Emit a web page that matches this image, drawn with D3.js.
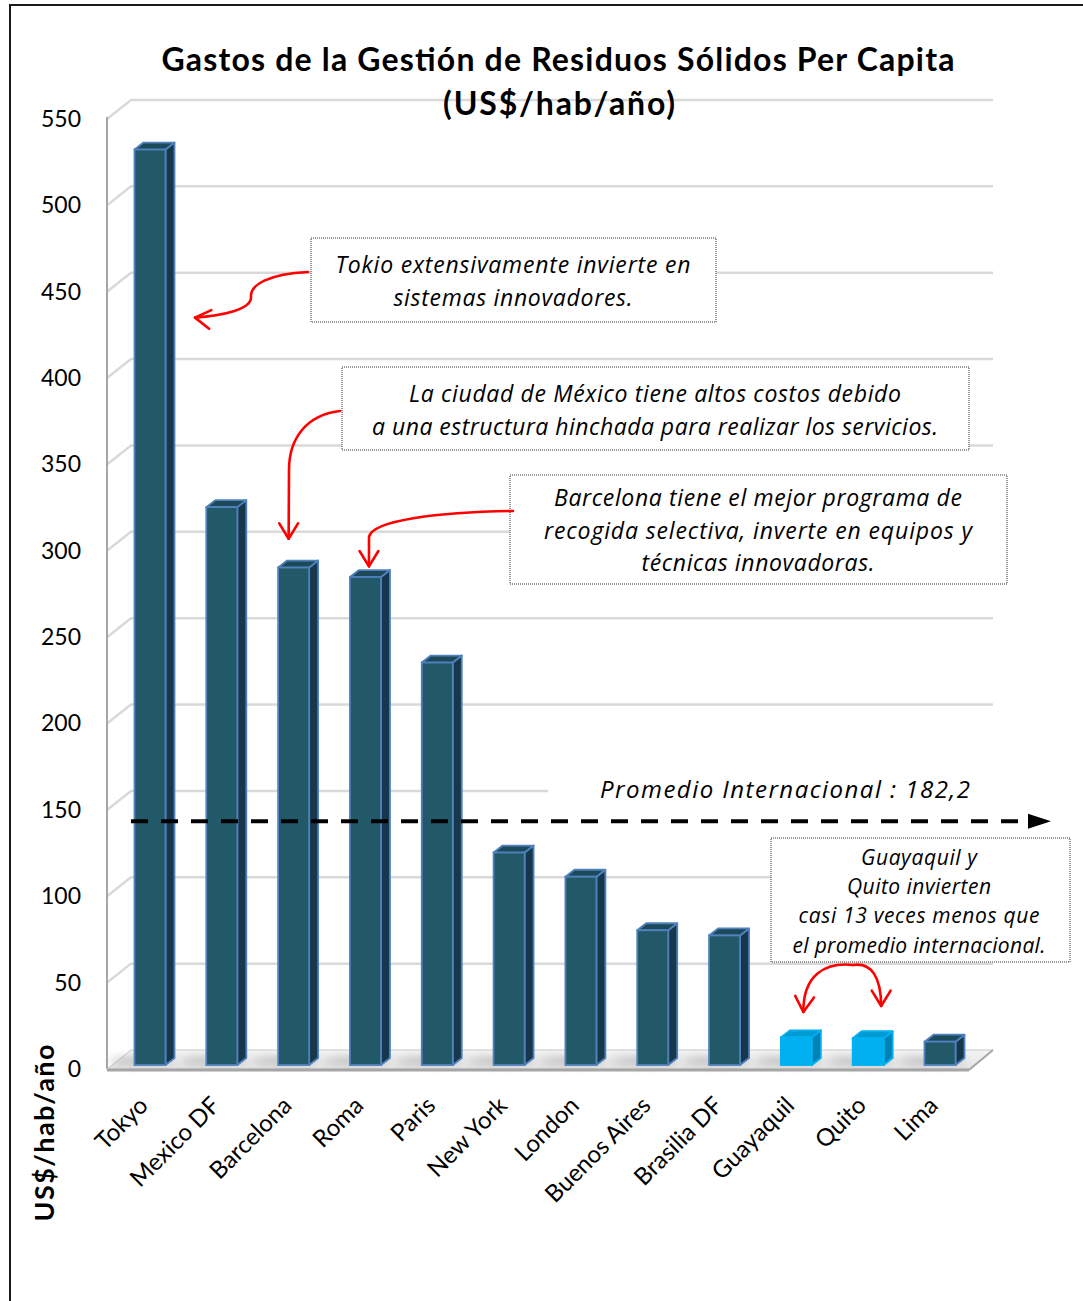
<!DOCTYPE html>
<html>
<head>
<meta charset="utf-8">
<script src="https://cdn.jsdelivr.net/npm/d3@7"></script>
<style>
  html, body { margin: 0; padding: 0; background: #fff; }
  svg { display: block; }
  text { font-family: Lato, "Open Sans", "Liberation Sans", sans-serif; fill: #000; }
  .note { font-family: "Open Sans", Lato, sans-serif; font-style: italic; }
</style>
</head>
<body>
<script>
// ---------- DATA ----------
const categories = ["Tokyo", "Mexico DF", "Barcelona", "Roma", "Paris", "New York",
  "London", "Buenos Aires", "Brasilia DF", "Guayaquil", "Quito", "Lima"];
const values = [530, 323, 288, 282.5, 233, 123, 109, 78, 75, 16, 15.5, 13.5];
const highlighted = ["Guayaquil", "Quito"];
const yTicks = [0, 50, 100, 150, 200, 250, 300, 350, 400, 450, 500, 550];
const titleLines = ["Gastos de la Gestión de Residuos Sólidos Per Capita", "(US$/hab/año)"];
const yAxisTitle = "US$/hab/año";
const avgLabel = "Promedio  Internacional : 182,2";
const avgLineValue = 143.5;

// ---------- LAYOUT ----------
const W = 1083, H = 1301;
const svg = d3.select("body").append("svg").attr("width", W).attr("height", H);

const x = d3.scalePoint().domain(categories).range([150, 940]);
const y = d3.scaleLinear().domain([0, 550]).range([1069, 119]);
const wallX = 107, backDX = 24, backDY = -19, plotRight = 969;
const barW = 31, barDX = 9, barDY = -7, barLift = 4;

const defs = svg.append("defs");
const floorGrad = defs.append("linearGradient").attr("id", "floorGrad").attr("x1", 0).attr("y1", 0).attr("x2", 0).attr("y2", 1);
floorGrad.append("stop").attr("offset", "0%").attr("stop-color", "#f4f4f4");
floorGrad.append("stop").attr("offset", "100%").attr("stop-color", "#e4e4e4");
defs.append("filter").attr("id", "blur").attr("x", "-50%").attr("y", "-200%").attr("width", "200%").attr("height", "500%")
  .append("feGaussianBlur").attr("stdDeviation", 4);

// frame
svg.append("path").attr("d", `M10,${H} V5 H${W}`).attr("fill", "none").attr("stroke", "#1a1a1a").attr("stroke-width", 2);

// back-wall gridlines
svg.append("g").selectAll("path").data(yTicks.filter(t => t > 0)).join("path")
  .attr("d", t => `M${wallX},${y(t)} L${wallX + backDX},${y(t) + backDY} L${plotRight + backDX},${y(t) + backDY}`)
  .attr("fill", "none").attr("stroke", "#d9d9d9").attr("stroke-width", 2.5);

// left wall edge
svg.append("line").attr("x1", wallX).attr("x2", wallX).attr("y1", y(550) - 2).attr("y2", y(0))
  .attr("stroke", "#a6a6a6").attr("stroke-width", 2);

// floor
svg.append("path")
  .attr("d", `M${wallX},${y(0)} L${plotRight},${y(0)} L${plotRight + backDX},${y(0) + backDY} L${wallX + backDX},${y(0) + backDY} Z`)
  .attr("fill", "url(#floorGrad)").attr("stroke", "#c8c8c8").attr("stroke-width", 1);
svg.append("g").selectAll("ellipse").data(categories).join("ellipse")
  .attr("cx", d => x(d) - 8).attr("cy", y(0) - barLift - 4).attr("rx", 34).attr("ry", 4)
  .attr("fill", "#9a9a9a").attr("opacity", 0.55).attr("filter", "url(#blur)");
svg.append("line").attr("x1", wallX).attr("x2", plotRight).attr("y1", y(0) + 1).attr("y2", y(0) + 1)
  .attr("stroke", "#a6a6a6").attr("stroke-width", 3);
svg.append("line").attr("x1", plotRight).attr("x2", plotRight + backDX).attr("y1", y(0) + 1).attr("y2", y(0) + backDY)
  .attr("stroke", "#a6a6a6").attr("stroke-width", 2);

// bars (3D)
const data = categories.map((c, i) => ({ c, v: values[i], hi: highlighted.includes(c) }));
const bars = svg.append("g").selectAll("g").data(data).join("g");
const x0 = d => x(d.c) - barW / 2, x1 = d => x(d.c) + barW / 2;
const yb = () => y(0) - barLift, yt = d => y(d.v) - barLift;
bars.append("path") // side
  .attr("d", d => `M${x1(d)},${yt(d)} L${x1(d) + barDX},${yt(d) + barDY} L${x1(d) + barDX},${yb() + barDY} L${x1(d)},${yb()} Z`)
  .attr("fill", d => d.hi ? "#0083b4" : "#17374a")
  .attr("stroke", d => d.hi ? "#00b0f0" : "#4f81bd").attr("stroke-width", 1.8).attr("stroke-linejoin", "round");
bars.append("path") // top
  .attr("d", d => `M${x0(d)},${yt(d)} L${x1(d)},${yt(d)} L${x1(d) + barDX},${yt(d) + barDY} L${x0(d) + barDX},${yt(d) + barDY} Z`)
  .attr("fill", d => d.hi ? "#009ad4" : "#1d4a5a")
  .attr("stroke", d => d.hi ? "#00b0f0" : "#4f81bd").attr("stroke-width", 1.8).attr("stroke-linejoin", "round");
bars.append("rect") // front
  .attr("x", d => x0(d)).attr("y", d => yt(d)).attr("width", barW).attr("height", d => yb() - yt(d))
  .attr("fill", d => d.hi ? "#00b0f0" : "#215968")
  .attr("stroke", d => d.hi ? "#00b0f0" : "#4f81bd").attr("stroke-width", 1.8);

// y axis labels
const yAxis = svg.append("g").attr("transform", `translate(${wallX},0)`)
  .call(d3.axisLeft(y).tickValues(yTicks).tickSize(0).tickPadding(26).tickFormat(d3.format("d")));
yAxis.select(".domain").remove();
yAxis.selectAll("text").style("font-size", "23px").style("font-family", "Lato, sans-serif").attr("fill", "#000");

// x axis labels
const xAxis = svg.append("g").attr("transform", `translate(0,1094)`)
  .call(d3.axisBottom(x).tickSize(0));
xAxis.select(".domain").remove();
xAxis.selectAll("text")
  .attr("x", 0).attr("y", 0).attr("dy", 0)
  .attr("transform", "translate(-1,13) rotate(-45)")
  .style("text-anchor", "end").style("font-size", "24px").style("font-family", "Lato, sans-serif").attr("fill", "#000");

// average dashed line
const ya = y(avgLineValue);
svg.append("line").attr("x1", x("Tokyo") - 19).attr("x2", 1028).attr("y1", ya).attr("y2", ya)
  .attr("stroke", "#000").attr("stroke-width", 4).attr("stroke-dasharray", "17,13");
svg.append("path").attr("d", `M1028,${ya - 7.5} L1051,${ya} L1028,${ya + 7.5} Z`).attr("fill", "#000");
svg.append("rect").attr("x", 548).attr("y", 770).attr("width", 447).attr("height", 36).attr("fill", "#fff");
svg.append("text").attr("class", "note").attr("x", 600).attr("y", 798).attr("textLength", 370)
  .style("font-size", "24px").text(avgLabel);

// title
svg.append("text").attr("x", 558).attr("y", 71).attr("text-anchor", "middle").attr("textLength", 793)
  .style("font-size", "32px").style("font-weight", "bold").text(titleLines[0]);
svg.append("text").attr("x", 559).attr("y", 115).attr("text-anchor", "middle").attr("textLength", 232)
  .style("font-size", "32px").style("font-weight", "bold").text(titleLines[1]);

// y axis title
svg.append("text").attr("transform", "translate(54,1133) rotate(-90)").attr("text-anchor", "middle")
  .attr("textLength", 177).style("font-size", "27px").style("font-weight", "bold").text(yAxisTitle);

// ---------- ANNOTATIONS ----------
const notes = [
  { box: [311, 238, 405, 84], cx: 513, size: 23, lines: [
      ["Tokio extensivamente invierte en", 265, 355], ["sistemas innovadores.", 298, 239]] },
  { box: [342, 367, 627, 83], cx: 655, size: 23, lines: [
      ["La ciudad de México tiene altos costos debido", 394, 492],
      ["a una estructura hinchada para realizar los servicios.", 427, 566]] },
  { box: [510, 475, 497, 109], cx: 758, size: 23, lines: [
      ["Barcelona tiene el mejor programa de", 498, 408],
      ["recogida  selectiva, inverte en equipos y", 531, 428],
      ["técnicas innovadoras.", 563, 233]] },
  { box: [771, 838, 299, 124], cx: 919, size: 21, lines: [
      ["Guayaquil y", 858, 116], ["Quito invierten", 887, 144],
      ["casi 13 veces  menos que", 916, 241], ["el promedio internacional.", 946, 253]] }
];
const ng = svg.append("g");
notes.forEach(n => {
  ng.append("rect").attr("x", n.box[0]).attr("y", n.box[1]).attr("width", n.box[2]).attr("height", n.box[3])
    .attr("fill", "#fff").attr("stroke", "#333").attr("stroke-width", 1).attr("stroke-dasharray", "1,1");
  n.lines.forEach(([t, yy, len]) => {
    ng.append("text").attr("class", "note").attr("x", n.cx).attr("y", yy).attr("dy", "0.35em").attr("text-anchor", "middle")
      .attr("textLength", len).style("font-size", n.size + "px").text(t);
  });
});

// red arrows
const red = svg.append("g").attr("fill", "none").attr("stroke", "#ff0000").attr("stroke-width", 2.6)
  .attr("stroke-linecap", "round").attr("stroke-linejoin", "round");
function arrowHead(tx, ty, ang) { // ang: direction the arrow points (radians)
  const l = 18, s = 0.55;
  const a1 = ang + Math.PI - s, a2 = ang + Math.PI + s;
  red.append("path").attr("d",
    `M${tx + l * Math.cos(a1)},${ty + l * Math.sin(a1)} L${tx},${ty} L${tx + l * Math.cos(a2)},${ty + l * Math.sin(a2)}`);
}
// Tokyo
{
  const tx = x("Tokyo") + 45, ty = y(435);
  red.append("path").attr("d", `M308,272 C270,274 250,284 251,297 C252,310 220,316 ${tx},${ty}`);
  arrowHead(tx, ty, Math.PI + 0.12);
}
// Mexico -> Barcelona
{
  const tx = x("Barcelona") - 5, ty = y(307);
  red.append("path").attr("d", `M340,411 C305,415 289,440 289,470 L${tx},${ty}`);
  arrowHead(tx, ty, Math.PI / 2);
}
// Barcelona -> Roma
{
  const tx = x("Roma") + 3.5, ty = y(291);
  red.append("path").attr("d", `M513,511 C440,512 372,520 369,537 L${tx},${ty}`);
  arrowHead(tx, ty, Math.PI / 2);
}
// Guayaquil & Quito
{
  const gx = x("Guayaquil") + 7, gy = y(33);
  const qx = x("Quito") + 13, qy = y(36.5);
  red.append("path").attr("d", `M853,965 C825,962 803,975 ${gx},${gy}`);
  arrowHead(gx, gy, Math.PI / 2 + 0.08);
  red.append("path").attr("d", `M853,965 C872,962 881,978 ${qx},${qy}`);
  arrowHead(qx, qy, Math.PI / 2);
}
</script>
</body>
</html>
